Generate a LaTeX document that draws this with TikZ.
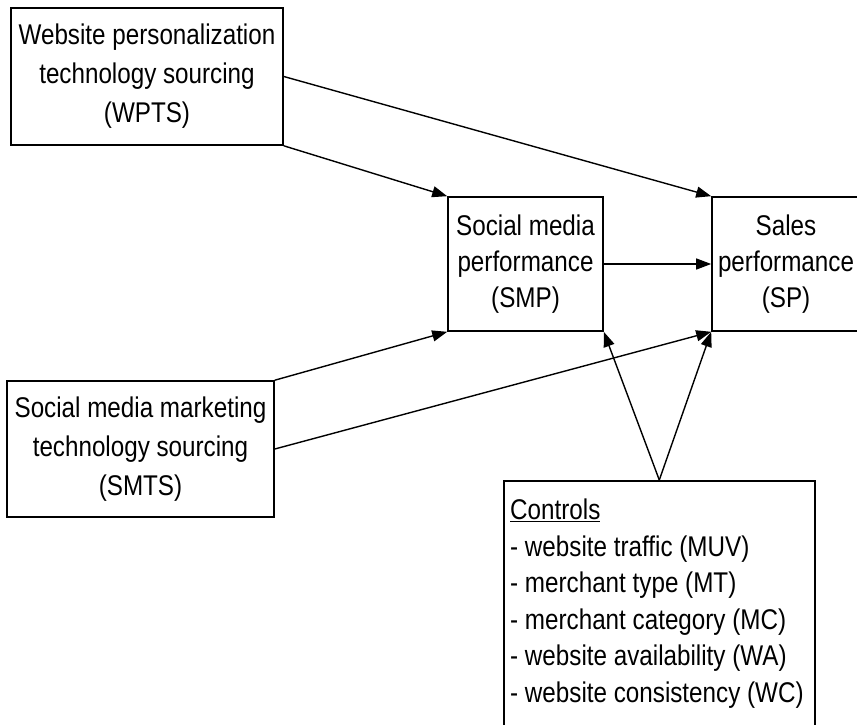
\documentclass[tikz,border=0pt]{standalone}
\usepackage{fontspec}
\setmainfont{Liberation Sans}[FakeStretch=0.85]
\usetikzlibrary{arrows.meta}
\begin{document}
\begin{tikzpicture}[x=1pt,y=-1pt,
  box/.style={draw, line width=1.6pt, align=center, inner sep=0pt,
              font=\fontsize{28.5}{36}\selectfont},
  wide/.style={font=\fontsize{28.5}{39}\selectfont},
  link/.style={line width=1.4pt, -{Triangle[length=15pt,width=11pt]}}]
\useasboundingbox (0,0) rectangle (857,725);

% constructs
\node[box, wide, minimum width=272pt, minimum height=137pt] (wpts) at (147,76.5)
  {Website personalization\\technology sourcing\\(WPTS)};
\node[box, wide, minimum width=267pt, minimum height=136pt] (smts) at (140.5,449)
  {Social media marketing\\technology sourcing\\(SMTS)};
\node[box, minimum width=155pt, minimum height=134pt] (smp) at (525.5,264)
  {Social media\\performance\\(SMP)};
\node[box, minimum width=148pt, minimum height=134pt] (sp) at (786,264)
  {Sales\\performance\\(SP)};

% control variables
\node[box, anchor=north west, minimum width=311pt, minimum height=265pt] (ctrl) at (503,480) {};
\node[anchor=north west, inner sep=0pt, align=left,
      font=\fontsize{28.5}{36.5}\selectfont] (ctrltext) at (510,499)
  {\underline{Controls}\\
   - website traffic (MUV)\\
   - merchant type (MT)\\
   - merchant category (MC)\\
   - website availability (WA)\\
   - website consistency (WC)};

% hypothesised paths
\draw[link] (wpts.east) -- (sp.north west);
\draw[link] (wpts.south east) -- (smp.north west);
\draw[link] (smts.north east) -- (smp.south west);
\draw[link] (smts.east) -- (sp.south west);
\draw[link] (smp.east) -- (sp.west);
\draw[link] (ctrl.north) -- (smp.south east);
\draw[link] (ctrl.north) -- (sp.south west);
\end{tikzpicture}
\end{document}
